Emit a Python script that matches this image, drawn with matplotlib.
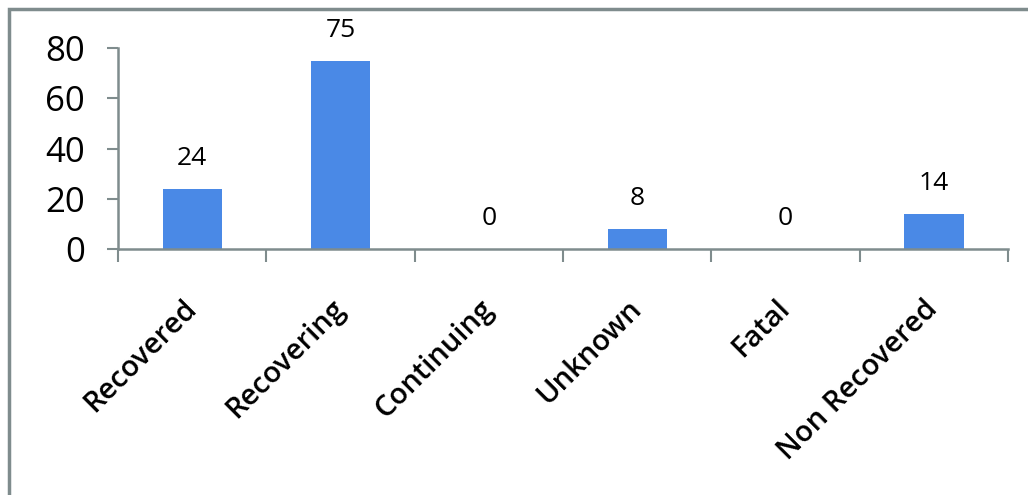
import matplotlib
matplotlib.use('Agg')
import matplotlib.pyplot as plt
from matplotlib.patches import Rectangle

# outcome categories and counts
categories = ['Recovered', 'Recovering', 'Continuing', 'Unknown', 'Fatal', 'Non Recovered']
counts = [24, 75, 0, 8, 0, 14]
y_ticks = [0, 20, 40, 60, 80]

bar_color = '#4A89E6'
line_color = '#7F8C8D'

plt.rcParams['font.family'] = ['Open Sans', 'DejaVu Sans']

fig = plt.figure(figsize=(10.28, 4.95), dpi=100)
ax = fig.add_axes([118 / 1028, 1 - 249 / 495, 890 / 1028, 201 / 495])

x = list(range(len(categories)))
ax.bar(x, counts, width=0.4, color=bar_color, zorder=2)

for xi, v in zip(x, counts):
    ax.annotate(str(v), (xi, v), xytext=(0, 22), textcoords='offset points',
                ha='center', va='center', fontsize=19)

ax.set_xlim(-0.5, len(categories) - 0.5)
ax.set_ylim(0, 80)
ax.set_yticks(y_ticks)
ax.set_yticklabels([str(t) for t in y_ticks], fontsize=25)

ax.set_xticks(x)
ax.set_xticklabels(categories, rotation=45, ha='right', va='center',
                   rotation_mode='anchor', fontsize=21, fontweight='semibold')
ax.set_xticks([i - 0.5 for i in range(len(categories) + 1)], minor=True)
ax.tick_params(axis='x', which='major', length=0, pad=40)
ax.tick_params(axis='x', which='minor', length=9, width=1.5, color=line_color)
ax.tick_params(axis='y', length=8, width=1.5, color=line_color, pad=16)

for side in ['top', 'right']:
    ax.spines[side].set_visible(False)
for side in ['left', 'bottom']:
    ax.spines[side].set_color(line_color)
    ax.spines[side].set_linewidth(1.8)

# outer frame, clipped on the right and bottom like the original
fig.patches.append(Rectangle((9 / 1028, -0.1), 1.2, 1 - 9 / 495 + 0.1,
                             transform=fig.transFigure, fill=False,
                             edgecolor=line_color, linewidth=2.5))

fig.savefig('out.png', dpi=100)
